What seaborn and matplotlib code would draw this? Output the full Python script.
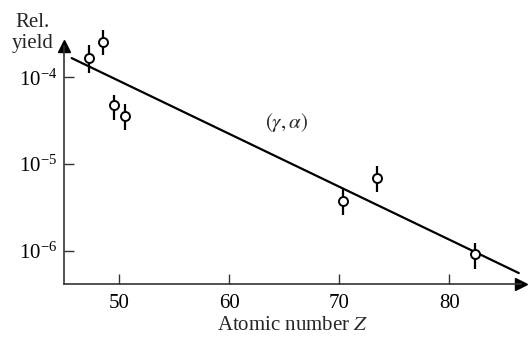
import numpy as np
import seaborn as sns
import matplotlib.pyplot as plt
from matplotlib.ticker import NullLocator

# measured points (gamma, alpha) relative yields
z_vals = [47.3, 48.5, 49.5, 50.5, 70.3, 73.4, 82.3]
yields = [1.66e-4, 2.57e-4, 4.8e-5, 3.6e-5, 3.7e-6, 6.9e-6, 9.1e-7]
y_low = [1.12e-4, 1.78e-4, 3.2e-5, 2.45e-5, 2.57e-6, 4.7e-6, 6.2e-7]
y_high = [2.34e-4, 3.47e-4, 6.2e-5, 4.9e-5, 5.2e-6, 9.5e-6, 1.23e-6]

# fitted line end points
fit_z = [45.7, 86.3]
fit_y = [1.66e-4, 5.5e-7]

x_ticks = [50, 60, 70, 80]
y_ticks = [1e-6, 1e-5, 1e-4]

sns.set_theme(style='ticks')
plt.rcParams['font.family'] = ['Liberation Serif', 'DejaVu Serif']
plt.rcParams['mathtext.fontset'] = 'stix'

fig = plt.figure(figsize=(5.28, 3.43), dpi=100)
ax = fig.add_axes([64 / 528, 59 / 343, (521 - 64) / 528, (284 - 46) / 343])
ax.set_yscale('log')

sns.lineplot(x=fit_z, y=fit_y, ax=ax, color='black', lw=1.6)

yerr = [np.array(yields) - np.array(y_low), np.array(y_high) - np.array(yields)]
ax.errorbar(z_vals, yields, yerr=yerr, fmt='none', ecolor='black',
            elinewidth=1.6, capsize=0, clip_on=False)
sns.scatterplot(x=z_vals, y=yields, ax=ax, marker='o', s=42,
                facecolor='white', edgecolor='black', linewidth=1.4,
                zorder=5, clip_on=False)

ax.set_xlim(45.0, 86.5)
ax.set_ylim(10 ** -6.386, 10 ** -3.64)
ax.set_xticks(x_ticks)
ax.set_yticks(y_ticks)
ax.yaxis.set_minor_locator(NullLocator())

for side in ('top', 'right'):
    ax.spines[side].set_visible(False)
for side in ('left', 'bottom'):
    ax.spines[side].set_color('#333333')
    ax.spines[side].set_linewidth(1.2)
ax.tick_params(axis='both', direction='in', length=7, width=1.0,
               color='#333333', labelsize=15, labelcolor='black')
ax.tick_params(axis='x', pad=7)
ax.tick_params(axis='y', pad=5)

# arrowheads at axis ends
ax.plot(1, 0, '>', color='black', markersize=8, transform=ax.transAxes,
        clip_on=False)
ax.plot(0, 1, '^', color='black', markersize=8, transform=ax.transAxes,
        clip_on=False)

ax.set_xlabel(r'Atomic number $Z$', fontsize=15, labelpad=2)
ax.set_ylabel('')
fig.text(33 / 528, 1 - 33 / 343, 'Rel.\nyield', ha='center', va='center',
         fontsize=15, linespacing=1.1)
ax.text(65.2, 10 ** -4.52, r'$(\gamma, \alpha)$', ha='center', va='center',
        fontsize=15)

fig.savefig('out.png', dpi=100)
